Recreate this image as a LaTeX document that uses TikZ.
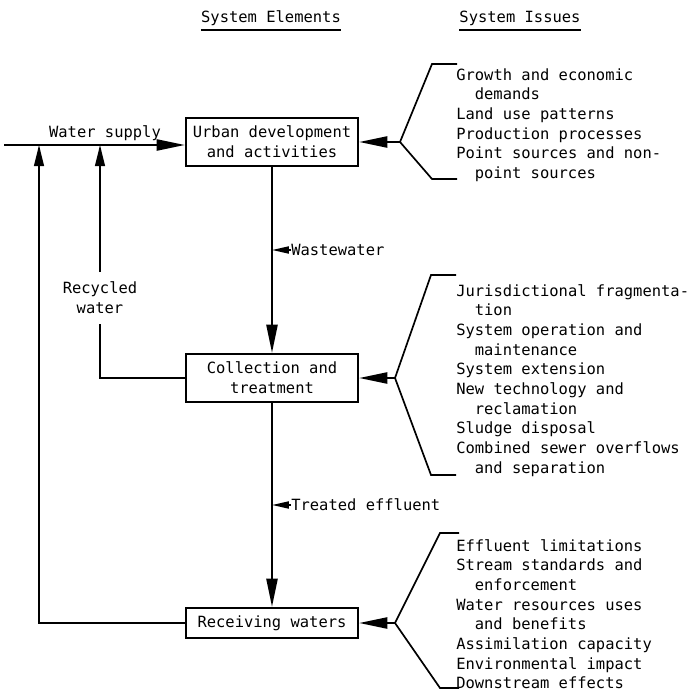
\documentclass[tikz,border=0pt]{standalone}
\usepackage{fontspec}
\setmainfont{DejaVu Sans Mono}
\usetikzlibrary{arrows.meta}

\tikzset{
  elembox/.style={draw, line width=1.8pt, minimum width=4.3cm, align=center, inner sep=3pt},
  flow/.style={line width=1.2pt, -{Triangle[length=20pt,width=8pt]}},
  upflow/.style={line width=1.2pt, -{Triangle[length=15pt,width=7pt]}},
  tag/.style={line width=1.2pt, -{Triangle[length=12pt,width=5pt]}},
  brace/.style={line width=1.2pt},
  issues/.style={anchor=north west, align=left, inner sep=0pt},
}
\newcommand{\cont}{\hspace*{1.2em}}

\begin{document}
\begin{tikzpicture}[x=0.025cm, y=-0.025cm, font=\fontsize{11}{14}\selectfont]
\useasboundingbox (0,0) rectangle (690,694);

% headings
\node[inner sep=0pt] (elhead) at (271,18) {System Elements};
\node[inner sep=0pt] (ishead) at (520,18) {System Issues};
\draw[line width=1.5pt] ([yshift=-3pt]elhead.south west) -- ([yshift=-3pt]elhead.south east);
\draw[line width=1.5pt] ([yshift=-3pt]ishead.south west) -- ([yshift=-3pt]ishead.south east);

% system elements
\node[elembox, minimum height=1.2cm] (urban) at (272,142) {Urban development\\and activities};
\node[elembox, minimum height=1.2cm] (collect) at (272,378) {Collection and\\treatment};
\node[elembox, minimum height=0.75cm] (receive) at (272,623) {Receiving waters};

\draw[flow] (urban.south) -- (collect.north);
\draw[flow] (collect.south) -- (receive.north);

\node[anchor=west, inner sep=0pt] (wwtag) at (291,250) {Wastewater};
\draw[tag] (wwtag.west) -- (wwtag.west -| urban.south);
\node[anchor=west, inner sep=0pt] (eftag) at (291,505) {Treated effluent};
\draw[tag] (eftag.west) -- (eftag.west -| collect.south);

% water supply and return lines
\coordinate (supply) at (4,145);
\coordinate (loop) at (39,145);
\draw[flow] (supply) -- (supply -| urban.west);
\node (wslabel) at (105,133) {Water supply};

\node[align=center, inner xsep=0pt, inner ysep=7pt] (recyc) at (100,298) {Recycled\\water};
\draw[line width=1.2pt] (collect.west) -| (recyc.south);
\draw[upflow] (recyc.north) -- (recyc.north |- supply);
\draw[upflow] (receive.west) -| (loop);

% system issues
\coordinate (p1) at (400,142);
\draw[brace] (457,64) -- (432,64) -- (p1) -- (432,179) -- (457,179);
\draw[flow] (p1) -- (urban.east);
\node[issues] (iss1) at (456,66) {\strut Growth and economic\\\cont demands\\Land use patterns\\Production processes\\Point sources and non-\\\cont point sources};

\coordinate (p2) at (395,378);
\draw[brace] (456,275) -- (431,275) -- (p2) -- (431,475) -- (456,475);
\draw[flow] (p2) -- (collect.east);
\node[issues] (iss2) at (456,282) {\strut Jurisdictional fragmenta-\\\cont tion\\System operation and\\\cont maintenance\\System extension\\New technology and\\\cont reclamation\\Sludge disposal\\Combined sewer overflows\\\cont and separation};

\coordinate (p3) at (395,623);
\draw[brace] (459,533) -- (440,533) -- (p3) -- (440,688) -- (459,688);
\draw[flow] (p3) -- (receive.east);
\node[issues] (iss3) at (456,537) {\strut Effluent limitations\\Stream standards and\\\cont enforcement\\Water resources uses\\\cont and benefits\\Assimilation capacity\\Environmental impact\\Downstream effects};

\end{tikzpicture}
\end{document}
